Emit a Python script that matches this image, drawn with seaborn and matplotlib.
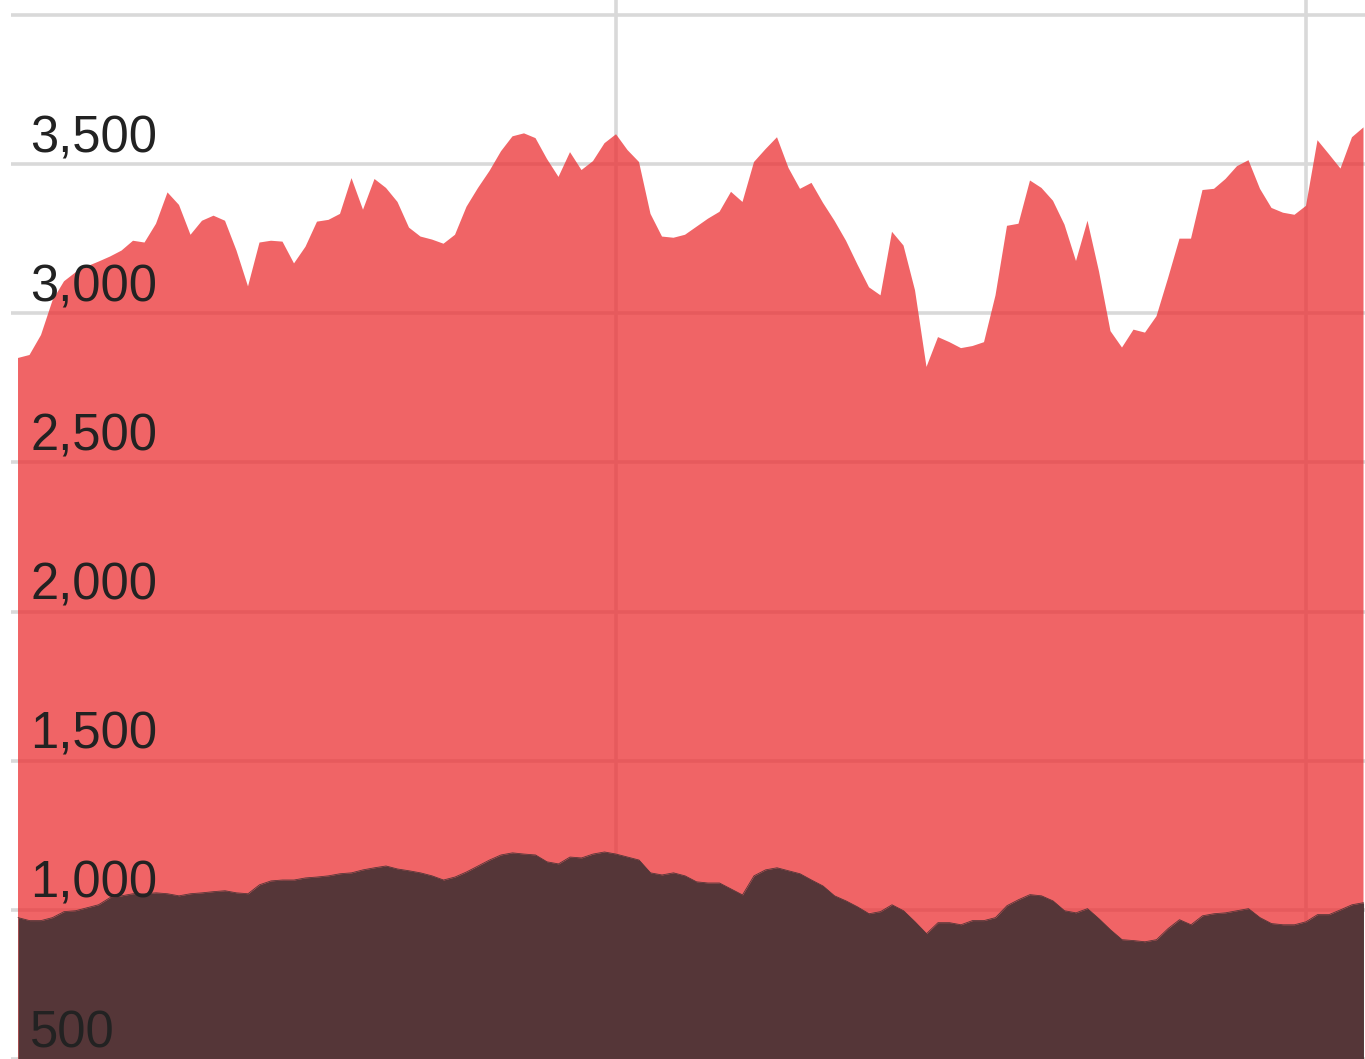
import pandas as pd
import matplotlib.pyplot as plt
import matplotlib.transforms as mtransforms
import seaborn as sns
import numpy as np

# ------------------------------------------------------------
# Data (one value per period)
# ------------------------------------------------------------
upper = [2850, 2860, 2927, 3043, 3107, 3137, 3157, 3173, 3190, 3210,
         3243, 3237, 3300, 3405, 3363, 3263, 3310, 3327, 3310, 3210,
         3090, 3237, 3243, 3240, 3167, 3223, 3307, 3313, 3333, 3453,
         3347, 3450, 3420, 3373, 3287, 3257, 3247, 3233, 3263, 3357,
         3420, 3477, 3543, 3593, 3603, 3587, 3517, 3457, 3540, 3480,
         3510, 3570, 3600, 3547, 3507, 3333, 3257, 3253, 3263, 3290,
         3317, 3340, 3407, 3373, 3507, 3550, 3590, 3487, 3417, 3437,
         3370, 3310, 3243, 3163, 3087, 3060, 3273, 3227, 3077, 2820,
         2920, 2903, 2883, 2890, 2903, 3060, 3293, 3300, 3445, 3420,
         3377, 3297, 3175, 3310, 3140, 2940, 2885, 2945, 2935, 2990,
         3117, 3250, 3250, 3413, 3417, 3450, 3493, 3513, 3417, 3353,
         3337, 3330, 3360, 3580, 3533, 3485, 3590, 3623]

lower = [974, 964, 964, 974, 994, 997, 1007, 1017, 1041, 1047,
         1054, 1054, 1057, 1054, 1047, 1054, 1057, 1061, 1064, 1057,
         1054, 1084, 1097, 1100, 1100, 1107, 1110, 1114, 1121, 1124,
         1134, 1141, 1147, 1137, 1131, 1124, 1114, 1100, 1110, 1127,
         1147, 1167, 1184, 1191, 1187, 1184, 1161, 1154, 1177, 1174,
         1187, 1194, 1187, 1177, 1167, 1124, 1117, 1124, 1114, 1094,
         1090, 1090, 1070, 1050, 1114, 1134, 1141, 1131, 1121, 1100,
         1080, 1047, 1030, 1010, 987, 994, 1017, 997, 960, 920,
         957, 957, 950, 964, 964, 974, 1014, 1034, 1051, 1047,
         1030, 997, 990, 1004, 970, 933, 900, 897, 893, 900,
         937, 967, 950, 980, 987, 990, 997, 1004, 974, 954,
         950, 950, 960, 984, 984, 1000, 1017, 1024]

period = np.arange(len(upper))
grid_periods = [52, 112]
y_ticks = [500, 1000, 1500, 2000, 2500, 3000, 3500, 4000]
y_labels = [500, 1000, 1500, 2000, 2500, 3000, 3500]

df = pd.DataFrame({'period': period, 'upper': upper, 'lower': lower})

# ------------------------------------------------------------
# Style
# ------------------------------------------------------------
red = '#EB3033'
brown = '#503537'
sns.set_style("whitegrid")
plt.rcParams['font.family'] = ['Liberation Sans', 'DejaVu Sans']

fig = plt.figure(figsize=(13.65, 10.59), dpi=100)
ax = fig.add_axes([11 / 1365, 0, 1 - 11 / 1365, 1])

ax.fill_between(df['period'], 0, df['upper'], color=red, alpha=0.75, linewidth=0, zorder=2)
ax.fill_between(df['period'], 0, df['lower'], color=brown, alpha=0.97, linewidth=0, zorder=3)
sns.lineplot(data=df, x='period', y='lower', ax=ax, color=brown, alpha=0.97, linewidth=0.6, zorder=3)

ax.set_xlim(-0.61, 117.13)
ax.set_ylim(509, 4050)
ax.set_xticks(grid_periods)
ax.set_yticks(y_ticks)
ax.set_xticklabels([])
ax.set_yticklabels([])
ax.tick_params(length=0)
ax.set_xlabel('')
ax.set_ylabel('')
ax.grid(True, color='#D9D9D9', linewidth=2.6, zorder=1)
ax.set_axisbelow(True)
for s in ax.spines.values():
    s.set_visible(False)

# y labels sit inside the plot, just above their gridline
trans = mtransforms.blended_transform_factory(ax.transAxes, ax.transData)
for v in y_labels:
    ax.annotate(f'{v:,}', xy=(0, v), xycoords=trans, xytext=(13.7, 8.6),
                textcoords='offset points', ha='left', va='baseline',
                fontsize=36.5, color='#222222', zorder=5)

fig.savefig('out.png', dpi=100)
